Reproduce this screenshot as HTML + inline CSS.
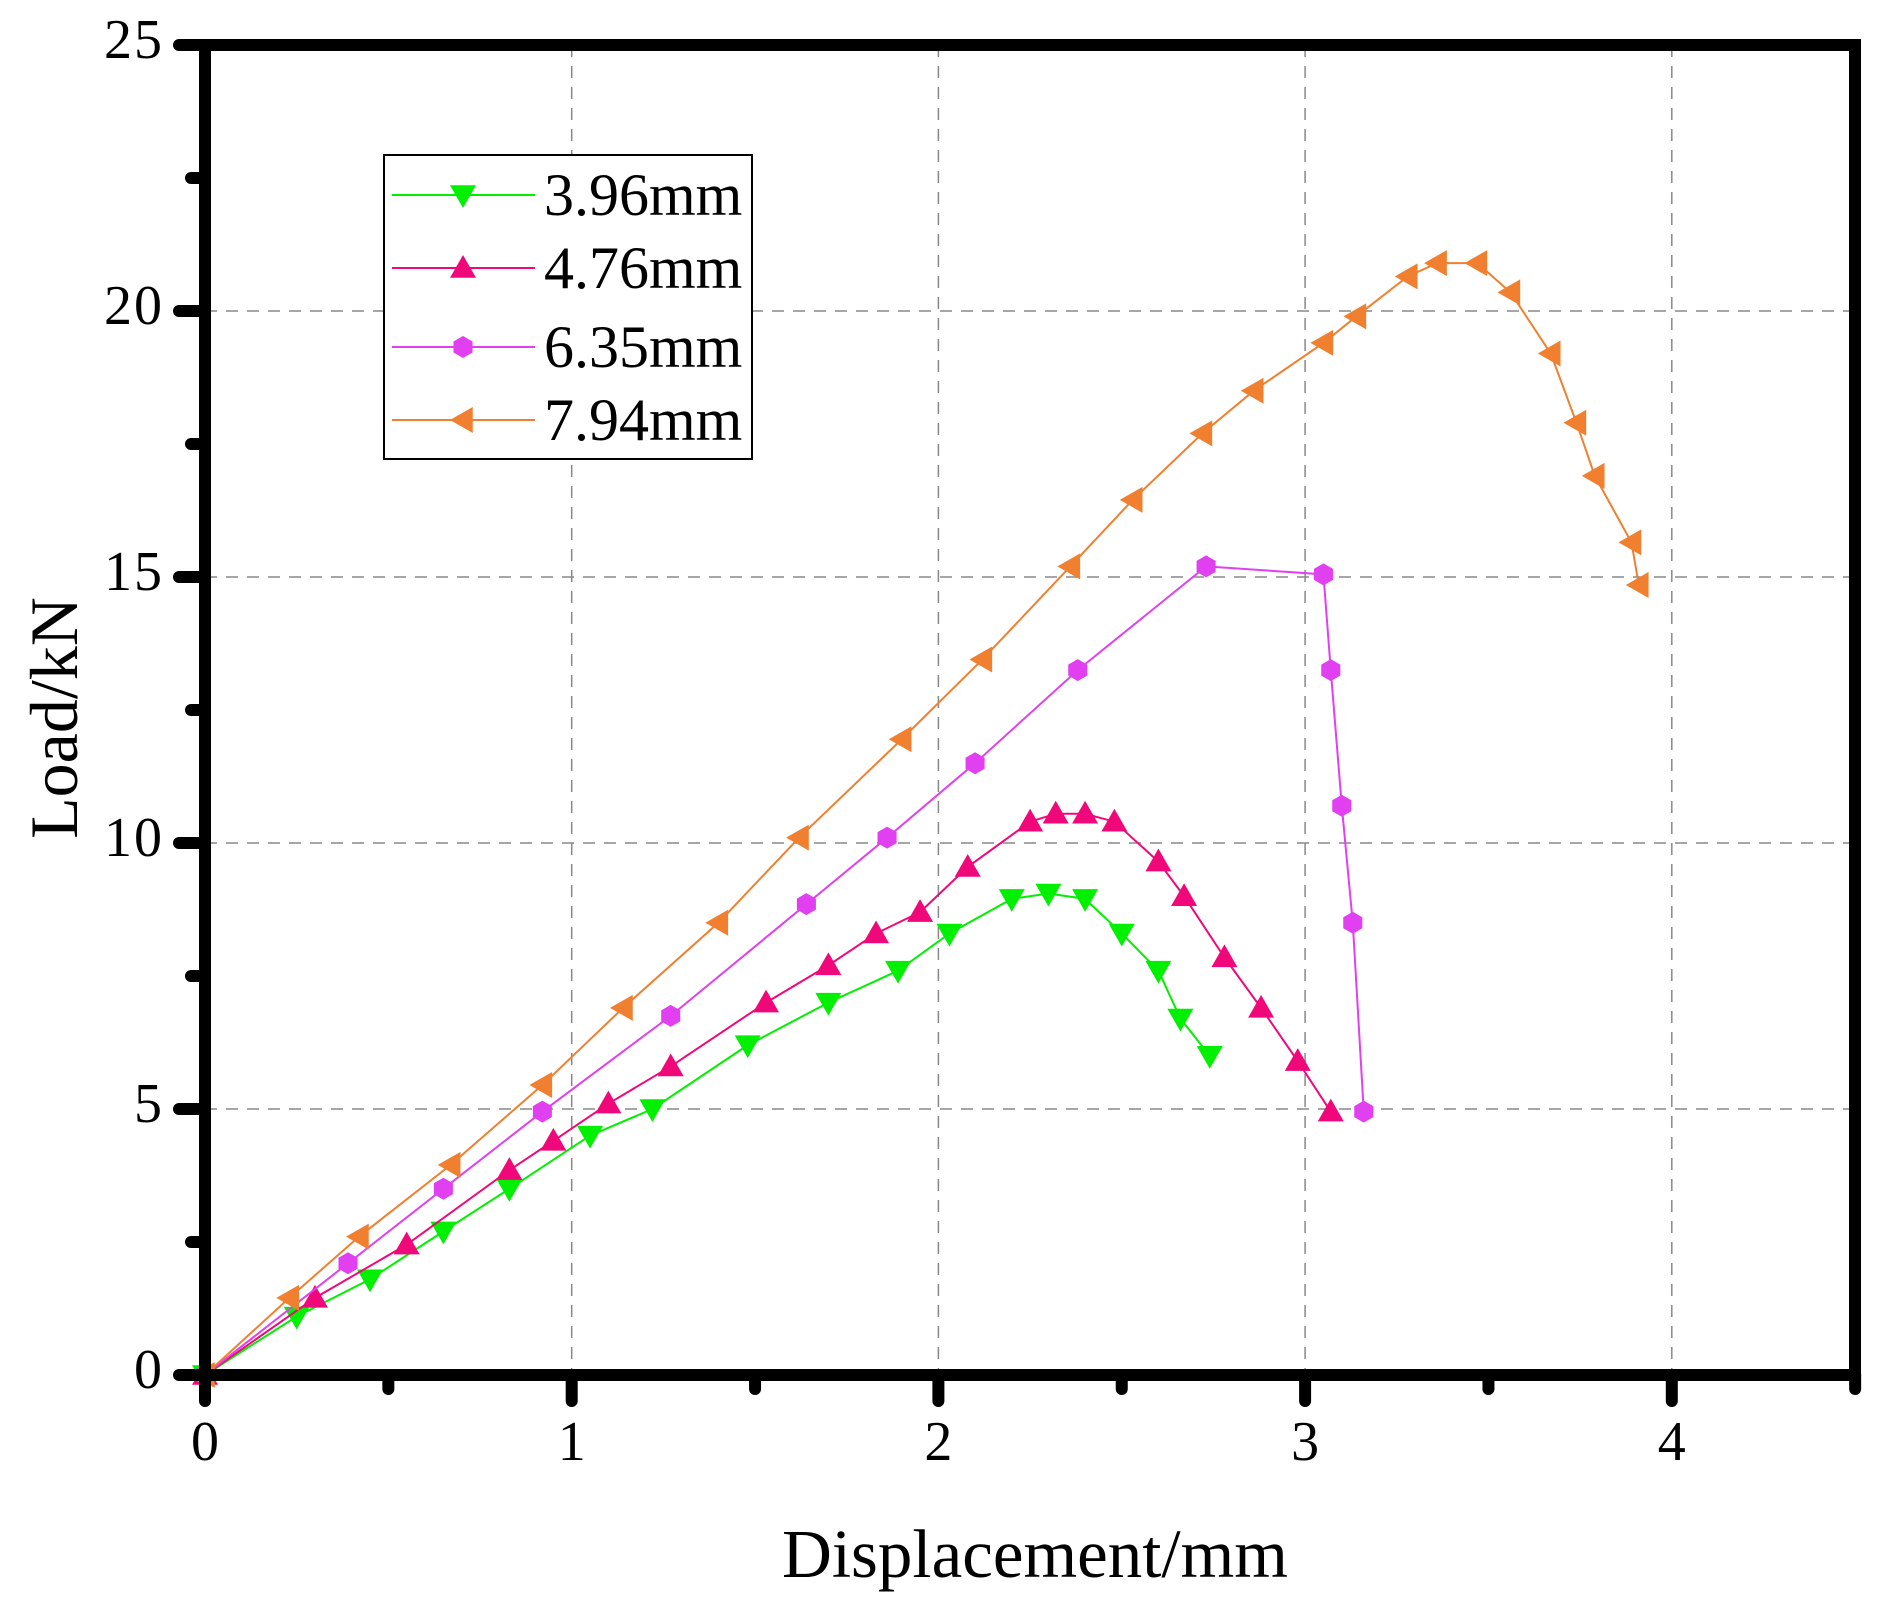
<!DOCTYPE html>
<html><head><meta charset="utf-8"><style>
html,body{margin:0;padding:0;background:#fff;}
svg{display:block;font-family:"Liberation Serif",serif;}
</style></head><body>
<svg id="s" width="1899" height="1610" viewBox="0 0 1899 1610" xmlns="http://www.w3.org/2000/svg">
<rect width="1899" height="1610" fill="#fff"/>
<g id="grid" stroke="#888" stroke-width="1.5" stroke-dasharray="12,9" fill="none"></g>
<g id="series"></g>
<g id="axes" stroke="#000" stroke-width="12" stroke-linecap="round" fill="none"></g>
<g id="labels" font-size="56" fill="#000"></g>
<text x="1035" y="1577" font-size="69" text-anchor="middle">Displacement/mm</text>
<text transform="translate(77,718) rotate(-90)" font-size="68" text-anchor="middle">Load/kN</text>
<rect x="384" y="155" width="368" height="304" fill="#fff" stroke="#000" stroke-width="2"/>
<g id="legend"></g>
</svg>
<script>
const X0=205,Y0=1375,SX=366.7,SY=53.2;
const px=x=>X0+x*SX, py=y=>Y0-y*SY;
const NS="http://www.w3.org/2000/svg";
function el(p,t,a){const e=document.createElementNS(NS,t);for(const k in a)e.setAttribute(k,a[k]);p.appendChild(e);return e;}
const g=document.getElementById('grid');
[1,2,3,4].forEach(v=>el(g,'line',{x1:px(v),x2:px(v),y1:py(25),y2:Y0}));
[5,10,15,20].forEach(v=>el(g,'line',{x1:X0,x2:1855,y1:py(v),y2:py(v)}));
const ax=document.getElementById('axes');
el(ax,'rect',{x:X0,y:py(25),width:1855-X0,height:Y0-py(25),'stroke-linecap':'butt'});
for(let i=0;i<=9;i++){const x=px(i*0.5);el(ax,'line',{x1:x,x2:x,y1:Y0,y2:Y0+(i%2?14:26)});}
for(let i=0;i<=10;i++){const y=py(i*2.5);el(ax,'line',{x1:X0,x2:X0-(i%2?14:26),y1:y,y2:y});}
const lb=document.getElementById('labels');
[0,1,2,3,4].forEach(v=>{const t=el(lb,'text',{x:px(v),y:1460,'text-anchor':'middle'});t.textContent=v;});
[0,5,10,15,20,25].forEach(v=>{const t=el(lb,'text',{x:164,y:py(v)+13,'text-anchor':'end','letter-spacing':'2'});t.textContent=v;});
const S=[
{c:'#00f000',m:'down',d:[[0,0],[0.25,1.1],[0.45,1.8],[0.65,2.7],[0.83,3.5],[1.05,4.5],[1.22,5.0],[1.48,6.2],[1.7,7.0],[1.89,7.6],[2.03,8.3],[2.2,8.95],[2.3,9.05],[2.4,8.95],[2.5,8.3],[2.6,7.6],[2.66,6.7],[2.74,6.0]],lbl:'3.96mm'},
{c:'#f0087a',m:'up',d:[[0,0],[0.3,1.45],[0.55,2.45],[0.83,3.85],[0.95,4.4],[1.1,5.1],[1.27,5.8],[1.53,7.0],[1.7,7.7],[1.83,8.3],[1.95,8.7],[2.08,9.55],[2.25,10.4],[2.32,10.55],[2.4,10.55],[2.48,10.4],[2.6,9.65],[2.67,9.0],[2.78,7.85],[2.88,6.9],[2.98,5.9],[3.07,4.95]],lbl:'4.76mm'},
{c:'#e040f0',m:'hex',d:[[0,0],[0.39,2.1],[0.65,3.5],[0.92,4.95],[1.27,6.75],[1.64,8.85],[1.86,10.1],[2.1,11.5],[2.38,13.25],[2.73,15.2],[3.05,15.05],[3.07,13.25],[3.1,10.7],[3.13,8.5],[3.16,4.95]],lbl:'6.35mm'},
{c:'#f08030',m:'left',d:[[0,0],[0.23,1.45],[0.42,2.6],[0.67,3.95],[0.92,5.45],[1.14,6.9],[1.4,8.5],[1.62,10.1],[1.9,11.95],[2.12,13.45],[2.36,15.2],[2.53,16.45],[2.72,17.7],[2.86,18.5],[3.05,19.4],[3.14,19.9],[3.28,20.65],[3.36,20.9],[3.47,20.9],[3.56,20.35],[3.67,19.2],[3.74,17.9],[3.79,16.9],[3.89,15.65],[3.91,14.85]],lbl:'7.94mm'}];
function marker(p,m,x,y,c){const r=13;let pts;
 if(m==='down')pts=[[x-r,y-r*0.75],[x+r,y-r*0.75],[x,y+r]];
 else if(m==='up')pts=[[x-r,y+r*0.75],[x+r,y+r*0.75],[x,y-r]];
 else if(m==='left')pts=[[x+r*0.75,y-r],[x+r*0.75,y+r],[x-r,y]];
 else{pts=[];for(let i=0;i<6;i++){const a=Math.PI/6+i*Math.PI/3;pts.push([x+11*Math.cos(a),y+11*Math.sin(a)]);}}
 el(p,'polygon',{points:pts.map(q=>q.join(',')).join(' '),fill:c});}
const sg=document.getElementById('series'),lg=document.getElementById('legend');
const ly=[195,268,347,420];
S.forEach((s,i)=>{
 el(sg,'polyline',{points:s.d.map(p=>px(p[0])+','+py(p[1])).join(' '),fill:'none',stroke:s.c,'stroke-width':2});
 s.d.forEach(p=>marker(sg,s.m,px(p[0]),py(p[1]),s.c));
 el(lg,'line',{x1:392,x2:535,y1:ly[i],y2:ly[i],stroke:s.c,'stroke-width':2});
 marker(lg,s.m,463,ly[i],s.c);
 const t=el(lg,'text',{x:544,y:ly[i]+20,'font-size':60});t.textContent=s.lbl;
});
</script>
</body></html>
